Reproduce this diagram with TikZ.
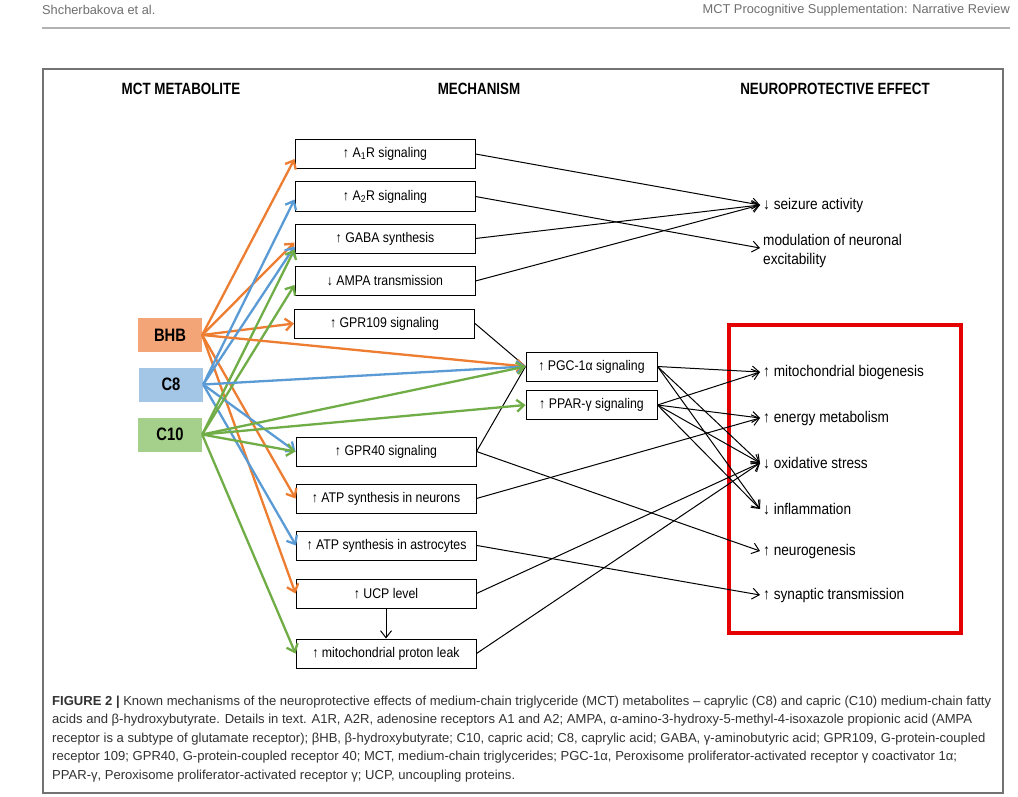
\documentclass[tikz,border=0pt]{standalone}
\usepackage{fontspec}
\setmainfont{Liberation Sans}[FakeStretch=0.88]
\newfontfamily\hdfont{Liberation Sans}[FakeStretch=0.82]
\newfontfamily\plainfont{Liberation Sans}
\usetikzlibrary{arrows.meta,calc}
\definecolor{orA}{RGB}{237,125,49}
\definecolor{blA}{RGB}{91,155,213}
\definecolor{grA}{RGB}{112,173,71}
\definecolor{orF}{RGB}{243,165,120}
\definecolor{blF}{RGB}{163,197,230}
\definecolor{grF}{RGB}{165,208,140}
\definecolor{redF}{RGB}{228,0,0}
\definecolor{capC}{RGB}{50,50,50}
\definecolor{hdC}{RGB}{110,110,110}
\tikzset{
  mech/.style={draw, line width=1pt, minimum width=180pt, minimum height=29pt, inner sep=0pt, font=\fontsize{14}{16}\selectfont},
  midbox/.style={mech, minimum width=131pt},
  met/.style={minimum width=64pt, minimum height=34pt, inner sep=0pt, font=\hdfont\bfseries\fontsize{18}{20}\selectfont},
  eff/.style={anchor=west, inner xsep=3pt, inner ysep=0pt, align=left, font=\fontsize{15.5}{19}\selectfont},
  head/.style={font=\hdfont\bfseries\fontsize{16.3}{18}\selectfont},
  carr/.style={line width=2.3pt, -{Straight Barb[length=7pt,width=12pt]}},
  barr/.style={line width=1pt, -{Straight Barb[length=7pt,width=11pt]}},
  capline/.style={anchor=west, inner sep=0pt, text=capC, font=\plainfont\fontsize{13.05}{15}\selectfont},
  pagehd/.style={inner sep=0pt, text=hdC, font=\plainfont\fontsize{12.8}{14}\selectfont}
}
\begin{document}
\begin{tikzpicture}[x=1pt,y=-1pt]
\useasboundingbox[fill=white] (0,0) rectangle (1018,797);
% page header
\node[pagehd, anchor=west] (hl) at (42,10) {Shcherbakova et al.};
\node[pagehd, anchor=east] (hr) at (1010,10) {MCT Procognitive Supplementation: Narrative Review};
\draw[line width=2pt, black!30] (42,28) -- (1010,28);
% frame
\draw[line width=1.2pt, black!55] (43,69) rectangle (1003,793);
% column headings
\node[head] (h1) at (181,89) {MCT METABOLITE};
\node[head] (h2) at (479,89) {MECHANISM};
\node[head] (h3) at (835,89) {NEUROPROTECTIVE EFFECT};
% metabolites
\node[met, fill=orF] (bhb) at (170,335) {BHB};
\node[met, fill=blF] (c8) at (171,384.5) {C8};
\node[met, fill=grF] (c10) at (170,434.5) {C10};
% mechanisms
\node[mech] (a1r) at (385,154) {↑ A\textsubscript{1}R signaling};
\node[mech] (a2r) at (385,196.5) {↑ A\textsubscript{2}R signaling};
\node[mech] (gaba) at (385,238.5) {↑ GABA synthesis};
\node[mech] (ampa) at (385,281) {↓ AMPA transmission};
\node[mech] (gpr109) at (384.5,323.5) {↑ GPR109 signaling};
\node[mech] (gpr40) at (386,451.5) {↑ GPR40 signaling};
\node[mech] (atpn) at (386,498.5) {↑ ATP synthesis in neurons};
\node[mech] (atpa) at (386.5,545.5) {↑ ATP synthesis in astrocytes};
\node[mech] (ucp) at (386,593.5) {↑ UCP level};
\node[mech] (leak) at (386,653.5) {↑ mitochondrial proton leak};
\node[midbox] (pgc) at (591.5,366.5) {↑ PGC-1α signaling};
\node[midbox] (ppar) at (591.5,405) {↑ PPAR-γ signaling};
% effects
\node[eff] (seiz) at (760,205) {↓ seizure activity};
\node[eff] (mod) at (760,251) {modulation of neuronal\\excitability};
\node[eff] (mito) at (760,372) {↑ mitochondrial biogenesis};
\node[eff] (energy) at (760,418) {↑ energy metabolism};
\node[eff] (oxid) at (760,463) {↓ oxidative stress};
\node[eff] (inflam) at (760,509) {↓ inflammation};
\node[eff] (neuro) at (760,551) {↑ neurogenesis};
\node[eff] (synap) at (760,595) {↑ synaptic transmission};
% red frame
\draw[line width=3.5pt, redF] (729,325) rectangle (961,633);
% black connectors
\draw[barr] (a1r.east) -- (seiz.west);
\draw[barr] (a2r.east) -- ([yshift=3pt]mod.west);
\draw[barr] (gaba.east) -- (seiz.west);
\draw[barr] (ampa.east) -- (seiz.west);
\draw[line width=1pt] (gpr109.east) -- (pgc.west);
\draw[line width=1pt] (gpr40.east) -- (pgc.west);
\draw[barr] (gpr40.east) -- (neuro.west);
\draw[barr] (atpn.east) -- (energy.west);
\draw[barr] (atpa.east) -- (synap.west);
\draw[barr] (ucp.east) -- (oxid.west);
\draw[barr] (leak.east) -- (oxid.west);
\draw[barr] (ucp.south) -- (leak.north);
\draw[barr] (pgc.east) -- (mito.west);
\draw[barr] (pgc.east) -- (oxid.west);
\draw[barr] (pgc.east) -- (inflam.west);
\draw[barr] (ppar.east) -- (mito.west);
\draw[barr] (ppar.east) -- (energy.west);
\draw[barr] (ppar.east) -- (oxid.west);
\draw[barr] (ppar.east) -- (inflam.west);
% coloured connectors
\draw[carr, orA] (bhb.east) -- ([yshift=-5pt]a1r.west);
\draw[carr, orA] (bhb.east) -- ([yshift=-4pt]gaba.west);
\draw[carr, orA] (bhb.east) -- (gpr109.west);
\draw[carr, orA] (bhb.east) -- (atpn.west);
\draw[carr, orA] (bhb.east) -- (ucp.west);
\draw[carr, blA] (c8.east) -- ([yshift=-3pt]a2r.west);
\draw[carr, blA] (c8.east) -- ([yshift=-8pt]gaba.west);
\draw[carr, blA] (c8.east) -- (gpr40.west);
\draw[carr, blA] (c8.east) -- (atpa.west);
\draw[carr, grA] (c10.east) -- ([yshift=-11pt]gaba.west);
\draw[carr, grA] (c10.east) -- ([yshift=-4pt]ampa.west);
\draw[carr, grA] (c10.east) -- (gpr40.west);
\draw[carr, grA] (c10.east) -- (ppar.west);
\draw[carr, grA] (c10.east) -- (leak.west);
\draw[carr, orA] (bhb.east) -- (pgc.west);
\draw[carr, blA] (c8.east) -- (pgc.west);
\draw[carr, grA] (c10.east) -- (pgc.west);
% caption
\node[capline] (cap1) at (52,702) {\textbf{FIGURE 2 |} Known mechanisms of the neuroprotective effects of medium-chain triglyceride (MCT) metabolites – caprylic (C8) and capric (C10) medium-chain fatty};
\node[capline] (cap2) at (52,720.5) {acids and β-hydroxybutyrate. Details in text. A1R, A2R, adenosine receptors A1 and A2; AMPA, α-amino-3-hydroxy-5-methyl-4-isoxazole propionic acid (AMPA};
\node[capline] (cap3) at (52,739) {receptor is a subtype of glutamate receptor); βHB, β-hydroxybutyrate; C10, capric acid; C8, caprylic acid; GABA, γ-aminobutyric acid; GPR109, G-protein-coupled};
\node[capline] (cap4) at (52,757.5) {receptor 109; GPR40, G-protein-coupled receptor 40; MCT, medium-chain triglycerides; PGC-1α, Peroxisome proliferator-activated receptor γ coactivator 1α;};
\node[capline] (cap5) at (52,776) {PPAR-γ, Peroxisome proliferator-activated receptor γ; UCP, uncoupling proteins.};
\end{tikzpicture}
\end{document}
